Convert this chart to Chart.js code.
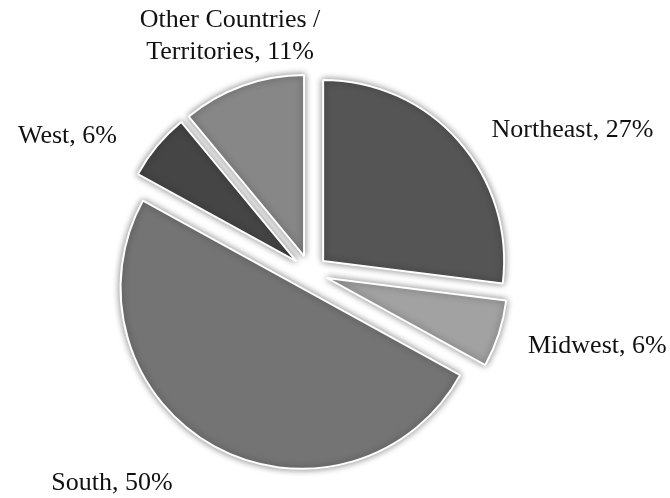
<!DOCTYPE html>
<html>
<head>
<meta charset="utf-8">
<script src="https://cdn.jsdelivr.net/npm/chart.js@4.4.1/dist/chart.umd.min.js"></script>
<style>
  body { margin: 0; background: #fff; }
  #wrap { width: 670px; height: 498px; }
</style>
</head>
<body>
<div id="wrap"><canvas id="chart" width="670" height="498"></canvas></div>
<script>
// data
const regions = ['Northeast', 'Midwest', 'South', 'West', ['Other Countries /', 'Territories']];
const shares = [27, 6, 50, 6, 11];

const sliceColors = ['#555555', '#a2a2a2', '#747474', '#454545', '#878787'];
const explodePx = 17.5;   // every slice pulled out by the same amount
const labelGap = 28.5;
// small hand tweaks so labels sit like the original
const labelNudge = [[31.5, 18.5], [5.5, -1.5], [-59.5, -2.5], [-29.5, 18.5], [27.5, 7.5]];

// built-in offset also grows the radius of wide slices, so move the arc centres instead
const explode = {
    id: 'explode',
    afterDatasetUpdate(chart, args) {
        args.meta.data.forEach(arc => {
            const mid = (arc.startAngle + arc.endAngle) / 2;
            arc.x += Math.cos(mid) * explodePx;
            arc.y += Math.sin(mid) * explodePx;
        });
    }
};

const glow = {
    id: 'glow',
    beforeDatasetsDraw(chart) {
        const ctx = chart.ctx;
        ctx.save();
        ctx.shadowColor = 'rgba(0,0,0,0.45)';
        ctx.shadowBlur = 7;
    },
    afterDatasetsDraw(chart) {
        chart.ctx.restore();
    }
};

const outsideLabels = {
    id: 'outsideLabels',
    afterDraw(chart) {
        const ctx = chart.ctx;
        const arcs = chart.getDatasetMeta(0).data;
        ctx.save();
        ctx.font = '26px "Liberation Serif", "Times New Roman", serif';
        ctx.fillStyle = '#111';
        ctx.textAlign = 'center';
        ctx.textBaseline = 'middle';
        const lineH = 32;
        arcs.forEach((arc, i) => {
            const name = regions[i];
            const lines = Array.isArray(name) ? name.slice() : [name];
            lines[lines.length - 1] += ', ' + shares[i] + '%';
            const w = Math.max(...lines.map(l => ctx.measureText(l).width));
            const h = lines.length * lineH;
            const mid = (arc.startAngle + arc.endAngle) / 2;
            const dx = Math.cos(mid), dy = Math.sin(mid);
            const d = arc.outerRadius + labelGap;
            const cx = arc.x + dx * d + dx * w / 2 + labelNudge[i][0];
            const cy = arc.y + dy * d + dy * h / 2 + labelNudge[i][1];
            lines.forEach((l, j) => {
                ctx.fillText(l, cx, cy - h / 2 + lineH / 2 + j * lineH);
            });
        });
        ctx.restore();
    }
};

new Chart(document.querySelector('#chart'), {
    type: 'pie',
    data: {
        labels: regions,
        datasets: [{
            data: shares,
            backgroundColor: sliceColors,
            borderColor: '#ffffff',
            borderWidth: 2
        }]
    },
    options: {
        responsive: false,
        animation: false,
        events: [],
        radius: 181,
        layout: { padding: { left: 10, right: 60, top: 57, bottom: 10 } },
        plugins: {
            legend: { display: false },
            tooltip: { enabled: false }
        }
    },
    plugins: [explode, glow, outsideLabels]
});
</script>
</body>
</html>
